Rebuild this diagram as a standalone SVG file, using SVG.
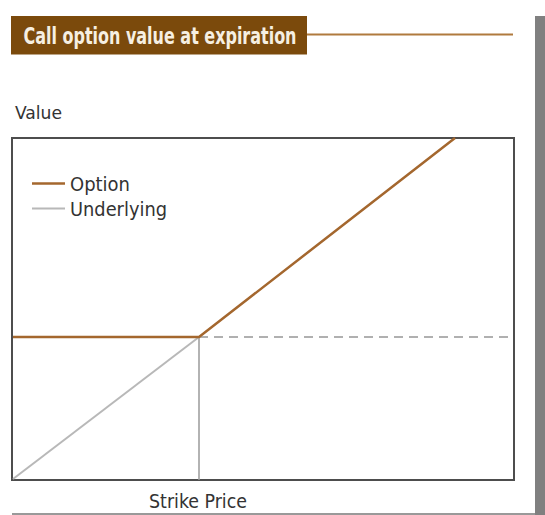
<svg xmlns="http://www.w3.org/2000/svg" width="545" height="515" viewBox="0 0 545 515">
<style>
.lbl{font-family:"DejaVu Sans Condensed","DejaVu Sans","Liberation Sans",sans-serif;fill:#333333}
.title{font-family:"DejaVu Sans Condensed","DejaVu Sans","Liberation Sans",sans-serif;font-weight:bold;fill:#f6efe2}
.opt{stroke:#a4672e;stroke-width:2.5;fill:none}
.und{stroke:#b8b8b8;stroke-width:2;fill:none}
</style>
<rect x="0" y="0" width="545" height="515" fill="#ffffff"/>
<rect x="535" y="16" width="10" height="499" fill="#808080"/>
<g id="title">
<rect x="11" y="16" width="296" height="38.5" fill="#7b4a0c"/>
<text class="title" x="23.5" y="43.5" font-size="23" textLength="273" lengthAdjust="spacingAndGlyphs">Call option value at expiration</text>
<line x1="307" y1="34.5" x2="513" y2="34.5" stroke="#b07a3e" stroke-width="2"/>
</g>
<text class="lbl" x="15" y="119" font-size="18" textLength="47" lengthAdjust="spacingAndGlyphs">Value</text>
<g id="plot">
<rect x="12" y="138" width="502" height="342" fill="#ffffff" stroke="#4d4d4d" stroke-width="2"/>
</g>
<g id="legend">
<line class="opt" x1="32" y1="183.5" x2="65" y2="183.5"/>
<text class="lbl" x="70" y="190.5" font-size="20" textLength="60" lengthAdjust="spacingAndGlyphs">Option</text>
<line class="und" x1="32" y1="208.5" x2="65" y2="208.5"/>
<text class="lbl" x="70" y="215.5" font-size="20" textLength="97" lengthAdjust="spacingAndGlyphs">Underlying</text>
</g>
<g id="connectors">
<line x1="199" y1="337" x2="513" y2="337" stroke="#b0b0b0" stroke-width="2" stroke-dasharray="9 6"/>
<line x1="199" y1="337" x2="199" y2="480" stroke="#9a9a9a" stroke-width="1.5"/>
<polyline class="und" points="13,479 199,337"/>
<polyline class="opt" points="13,337 199,337 455,138"/>
</g>
<text class="lbl" x="149" y="508" font-size="20" textLength="98" lengthAdjust="spacingAndGlyphs">Strike Price</text>
<line x1="12" y1="514" x2="535" y2="514" stroke="#777777" stroke-width="1.5"/>
</svg>
